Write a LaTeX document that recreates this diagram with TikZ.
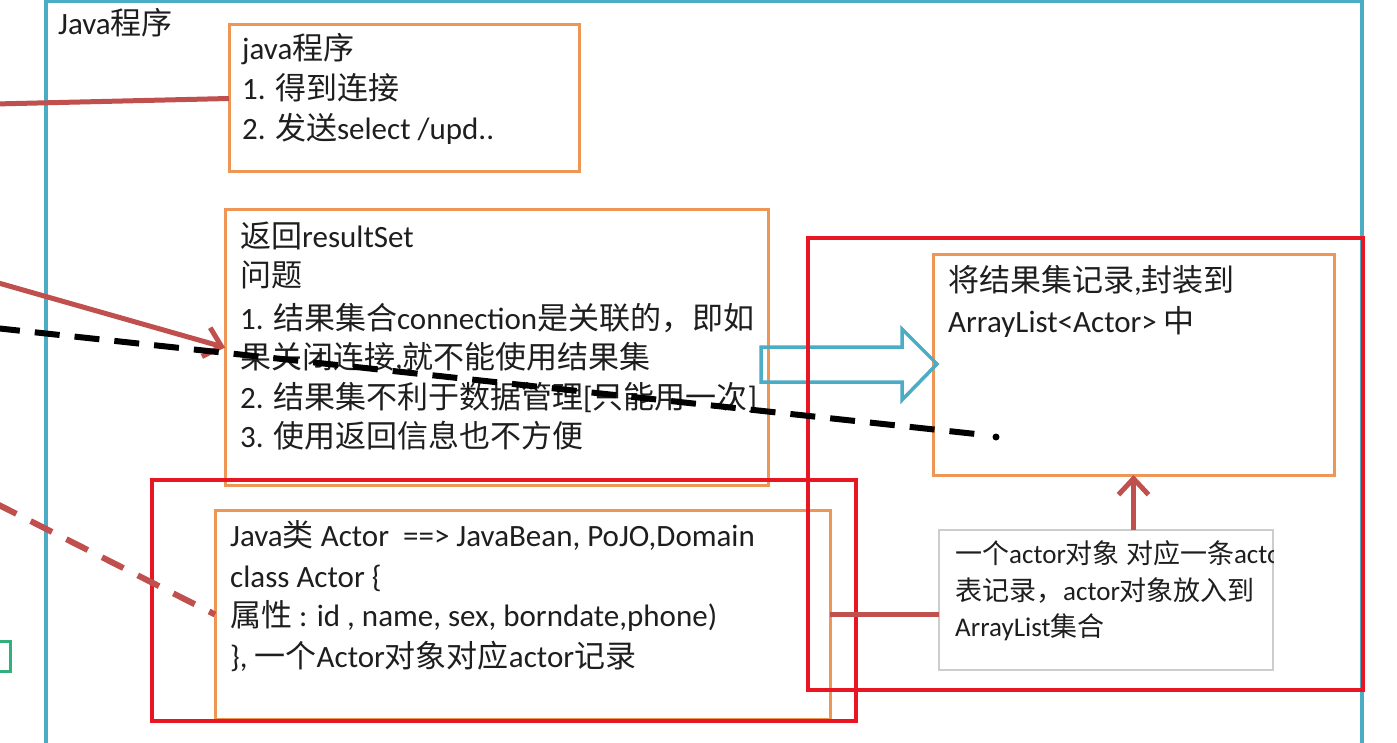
\documentclass[tikz,border=0pt]{standalone}
\usepackage{fontspec}
\setmainfont{Carlito}
\newfontfamily\cjk{Noto Sans CJK SC}
\usetikzlibrary{arrows.meta}
\definecolor{frameblue}{RGB}{75,172,198}
\definecolor{boxorange}{RGB}{238,150,85}
\definecolor{redframe}{RGB}{232,22,35}
\definecolor{conn}{RGB}{192,80,77}
\definecolor{txt}{RGB}{30,30,30}
\definecolor{graybd}{RGB}{205,205,205}
\definecolor{greenfrag}{RGB}{50,175,125}
\newcommand{\zh}[1]{{\cjk #1}}
\begin{document}
\begin{tikzpicture}[x=1pt,y=-1pt,
  obox/.style={draw=boxorange,line width=3pt,rectangle,inner sep=0pt,outer sep=0pt,anchor=north west},
  tl/.style={anchor=base west,inner sep=0pt,text=txt,font=\fontsize{31}{37}\selectfont},
  tls/.style={anchor=base west,inner sep=0pt,text=txt,font=\fontsize{27}{33}\selectfont},
  redbox/.style={draw=redframe,line width=3.5pt},
  connline/.style={draw=conn,line width=5pt},
  connarrow/.style={draw=conn,line width=5pt,-{Straight Barb[length=16pt,width=30pt,line width=5pt]}},
  conndash/.style={draw=conn,line width=6pt,dash pattern=on 24pt off 16pt},
  blackdash/.style={draw=black,line width=6pt,dash pattern=on 25pt off 15pt}]
\clip (0,0) rectangle (1397,743);
\fill[white] (0,0) rectangle (1397,743);
% outer frame
\draw[frameblue,line width=3.5pt] (46,760) -- (46,1.5) -- (1362,1.5) -- (1362,760);
\node[tl] (title) at (58,35) {Java\zh{程序}};
% green fragment at left edge
\draw[greenfrag,line width=3pt] (-2,641) -- (10,641) -- (10,671) -- (-2,671);
% box 1
\node[obox,minimum width=350pt,minimum height=147pt] (b1) at (229,25) {};
\node[tl] (b1a) at (242,60) {java\zh{程序}};
\node[tl] (b1b) at (242,100) {1. \zh{得到连接}};
\node[tl] (b1c) at (242,140) {2. \zh{发送}select /upd..};
% box 2
\node[obox,minimum width=543pt,minimum height=275pt] (b2) at (225,210) {};
\node[tl] (b2a) at (240,248) {\zh{返回}resultSet};
\node[tl] (b2b) at (240,287) {\zh{问题}};
\node[tl] (b2c) at (240,329) {1. \zh{结果集合}connection\zh{是关联的，即如}};
\node[tl] (b2d) at (240,368) {\zh{果关闭连接},\zh{就不能使用结果集}};
\node[tl] (b2e) at (240,408) {2. \zh{结果集不利于数据管理}[\zh{只能用一次}]};
\node[tl] (b2f) at (240,447) {3. \zh{使用返回信息也不方便}};
% box 3
\node[obox,minimum width=615pt,minimum height=209pt] (b3) at (215,510) {};
\node[tl] (b3a) at (230,546) {Java\zh{类} Actor\ \ ==> JavaBean, PoJO,Domain};
\node[tl] (b3b) at (230,587) {class Actor \{};
\node[tl] (b3c) at (230,626) {\zh{属性} : id , name, sex, borndate,phone)};
\node[tl] (b3d) at (230,667) {\}, \zh{一个}Actor\zh{对象对应}actor\zh{记录}};
% box 4
\node[obox,minimum width=401pt,minimum height=220pt] (b4) at (933,255) {};
\node[tl] (b4a) at (948,291) {\zh{将结果集记录},\zh{封装到}};
\node[tl] (b4b) at (948,332) {ArrayList<Actor> \zh{中}};
% gray note box
\node[draw=graybd,line width=1.5pt,rectangle,inner sep=0pt,outer sep=0pt,anchor=north west,minimum width=334pt,minimum height=140pt] (gb) at (939,530) {};
\begin{scope}
\clip (gb.north west) rectangle (gb.south east);
\node[tls] (gba) at (955,563) {\zh{一个}actor\zh{对象 对应一条}actor};
\node[tls] (gbb) at (955,600) {\zh{表记录，}actor\zh{对象放入到}};
\node[tls] (gbc) at (955,636) {ArrayList\zh{集合}};
\end{scope}
% block arrow
\draw[frameblue,line width=3.5pt,line join=miter] (761,347) -- (902,347) -- (902,329) -- (937,364) -- (902,400) -- (902,382) -- (761,382) -- cycle;
% red frames
\draw[redbox] (152,480) rectangle (856,721);
\draw[redbox] (808,238) rectangle (1363,690);
% connectors
\coordinate (l1) at (-5,104);
\coordinate (l2) at (-5,282);
\coordinate (l3) at (-5,503);
\draw[connline] (l1) -- (b1.west);
\draw[connarrow] (l2) -- (b2.west);
\draw[conndash] (l3) -- (b3.west);
\draw[connline] (b3.east) -- (b3.east -| gb.west);
\draw[connarrow] (gb.north -| b4.south) -- (b4.south);
% black dashed line
\coordinate (d1) at (-5,328);
\coordinate (d2) at (985,435);
\coordinate (d3) at (996,437);
\draw[blackdash] (d1) -- (d2);
\fill[black] (d3) circle (3.5pt);
\end{tikzpicture}
\end{document}
